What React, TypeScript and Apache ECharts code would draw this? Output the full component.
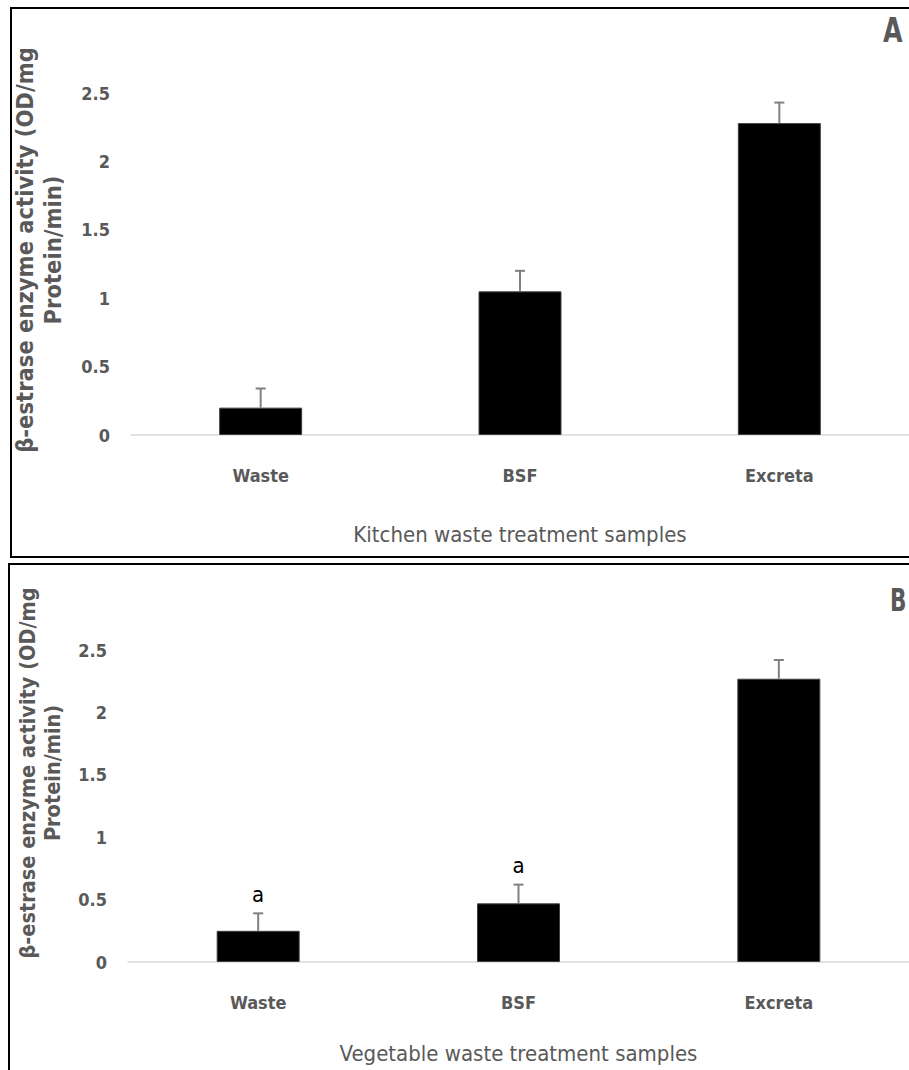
import React, { useEffect, useRef } from "react";
import * as echarts from "echarts";

const categories = ["Waste", "BSF", "Excreta"];
const valuesA = [0.2, 1.05, 2.28];
const errorsA = [0.14, 0.15, 0.15];
const lettersA = ["", "", ""];
const valuesB = [0.25, 0.47, 2.27];
const errorsB = [0.14, 0.15, 0.15];
const lettersB = ["a", "a", ""];
const yMin = 0;
const yMax = 2.5;
const yStep = 0.5;
const yTitleLines = ["β-estrase enzyme activity (OD/mg", "Protein/min)"];
const xTitleA = "Kitchen waste treatment samples";
const xTitleB = "Vegetable waste treatment samples";

const FONT = "'DejaVu Sans Condensed', 'DejaVu Sans', sans-serif";
const GRAY = "#595959";

function errorSeries(gridIdx: number, values: number[], errors: number[], letters: string[]) {
  return {
    type: "custom",
    xAxisIndex: gridIdx,
    yAxisIndex: gridIdx,
    z: 5,
    data: values.map((v, i) => [i, v, errors[i]]),
    renderItem: (params: any, api: any) => {
      const i = api.value(0);
      const v = api.value(1);
      const e = api.value(2);
      const base = api.coord([i, v]);
      const top = api.coord([i, v + e]);
      const children: any[] = [
        {
          type: "line",
          shape: { x1: base[0], y1: base[1], x2: top[0], y2: top[1] },
          style: { stroke: "#808080", lineWidth: 2 },
        },
        {
          type: "line",
          shape: { x1: top[0] - 5, y1: top[1], x2: top[0] + 5, y2: top[1] },
          style: { stroke: "#808080", lineWidth: 2 },
        },
      ];
      const letter = letters[params.dataIndex];
      if (letter) {
        children.push({
          type: "text",
          style: {
            text: letter,
            x: top[0],
            y: top[1] - 19,
            align: "center",
            verticalAlign: "middle",
            fontSize: 22,
            fontFamily: FONT,
            fill: "#000",
          },
        });
      }
      return { type: "group", children };
    },
  };
}

export default function App() {
  const ref = useRef<HTMLDivElement>(null);
  useEffect(() => {
    if (!ref.current) return;
    const chart = echarts.init(ref.current, undefined, { renderer: "svg" });
    const xAxisCommon = (name: string, gap: number) => ({
      type: "category",
      data: categories,
      name,
      nameLocation: "middle",
      nameGap: gap,
      nameTextStyle: { fontSize: 22, color: GRAY, fontFamily: FONT },
      axisLine: { show: true, lineStyle: { color: "#d9d9d9", width: 1.5 } },
      axisTick: { show: false },
      axisLabel: { margin: 31, fontSize: 18, fontWeight: "bold", color: GRAY, fontFamily: FONT },
    });
    const yAxisCommon = () => ({
      type: "value",
      min: yMin,
      max: yMax,
      interval: yStep,
      axisLine: { show: false },
      axisTick: { show: false },
      splitLine: { show: false },
      axisLabel: { margin: 21, fontSize: 18, fontWeight: "bold", color: GRAY, fontFamily: FONT },
    });
    chart.setOption({
      animation: false,
      backgroundColor: "#fff",
      grid: [
        { left: 131, top: 93, width: 793, height: 342 },
        { left: 128, top: 650, width: 797, height: 312 },
      ],
      xAxis: [
        { ...xAxisCommon(xTitleA, 88), gridIndex: 0 },
        { ...xAxisCommon(xTitleB, 80), gridIndex: 1 },
      ],
      yAxis: [
        { ...yAxisCommon(), gridIndex: 0 },
        { ...yAxisCommon(), gridIndex: 1 },
      ],
      series: [
        {
          type: "bar",
          xAxisIndex: 0,
          yAxisIndex: 0,
          data: valuesA,
          barWidth: 83,
          itemStyle: { color: "#000", borderColor: "#404040", borderWidth: 1 },
        },
        errorSeries(0, valuesA, errorsA, lettersA),
        {
          type: "bar",
          xAxisIndex: 1,
          yAxisIndex: 1,
          data: valuesB,
          barWidth: 83,
          itemStyle: { color: "#000", borderColor: "#404040", borderWidth: 1 },
        },
        errorSeries(1, valuesB, errorsB, lettersB),
      ],
      graphic: [
        {
          type: "rect",
          shape: { x: 11, y: 8, width: 920, height: 549 },
          style: { fill: "none", stroke: "#000", lineWidth: 2 },
          silent: true,
        },
        {
          type: "rect",
          shape: { x: 9, y: 564, width: 920, height: 540 },
          style: { fill: "none", stroke: "#000", lineWidth: 2 },
          silent: true,
        },
        {
          type: "text",
          x: 39,
          y: 250,
          rotation: Math.PI / 2,
          style: {
            text: yTitleLines.join("\n"),
            align: "center",
            verticalAlign: "middle",
            fontSize: 23.5,
            lineHeight: 28,
            fontWeight: "bold",
            fill: GRAY,
            fontFamily: FONT,
          },
        },
        {
          type: "text",
          x: 40,
          y: 773,
          rotation: Math.PI / 2,
          style: {
            text: yTitleLines.join("\n"),
            align: "center",
            verticalAlign: "middle",
            fontSize: 21.5,
            lineHeight: 25,
            fontWeight: "bold",
            fill: GRAY,
            fontFamily: FONT,
          },
        },
        {
          type: "text",
          x: 883,
          y: 31,
          scaleX: 0.85,
          style: {
            text: "A",
            align: "left",
            verticalAlign: "middle",
            fontSize: 33,
            fontWeight: "bold",
            fill: GRAY,
            fontFamily: FONT,
          },
        },
        {
          type: "text",
          x: 890,
          y: 600,
          scaleX: 0.75,
          style: {
            text: "B",
            align: "left",
            verticalAlign: "middle",
            fontSize: 32,
            fontWeight: "bold",
            fill: GRAY,
            fontFamily: FONT,
          },
        },
      ],
    });
    return () => chart.dispose();
  }, []);
  return (
    <div
      ref={ref}
      style={{ position: "fixed", left: 0, top: 0, width: 909, height: 1070, overflow: "hidden" }}
    />
  );
}
